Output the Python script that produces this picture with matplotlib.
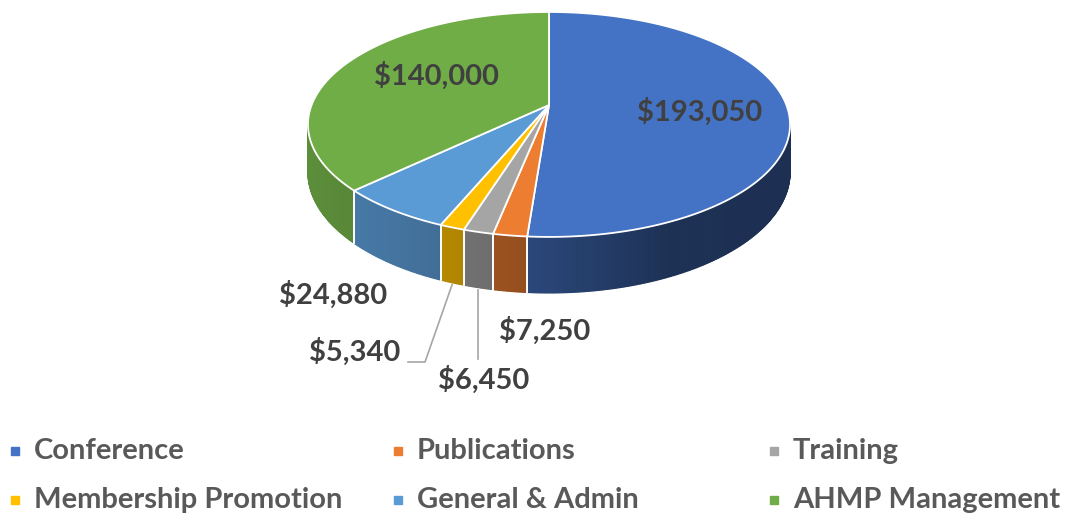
import numpy as np
import matplotlib.pyplot as plt
from matplotlib.patches import Polygon
import matplotlib.colors as mcolors

plt.rcParams['font.family'] = ['Lato', 'DejaVu Sans']

# budget data
categories = ['Conference', 'Publications', 'Training',
              'Membership Promotion', 'General & Admin', 'AHMP Management']
amounts = [193050, 7250, 6450, 5340, 24880, 140000]
value_labels = ['$193,050', '$7,250', '$6,450', '$5,340', '$24,880', '$140,000']
colors = ['#4472C4', '#ED7D31', '#A5A5A5', '#FFC000', '#5B9BD5', '#70AD47']

# geometry of the tilted disc, in pixels
cx, cy = 549, 105
A, B, tilt = 237.4, 109.1, 0.173
depth = 46.3


def project(phi):
    u, v = np.cos(phi), np.sin(phi)
    w = 1 + tilt * v
    return cx + A * u / w, cy - B * v / w, depth / w


def shade(x):
    s = (x - (cx - 241)) / 482.0
    return np.interp(s, [0, 0.3, 0.5, 0.75, 1], [0.82, 0.70, 0.60, 0.43, 0.42])


fig = plt.figure(figsize=(10.67, 5.16), dpi=100)
ax = fig.add_axes([0, 0, 1, 1])
ax.set_xlim(0, 1067)
ax.set_ylim(516, 0)
ax.axis('off')

frac = np.array(amounts) / np.sum(amounts)
ends = np.pi / 2 - 2 * np.pi * np.cumsum(frac)
starts = np.concatenate([[np.pi / 2], ends[:-1]])

vis_lo = -np.pi + np.arcsin(tilt)
vis_hi = -np.arcsin(tilt)

# side walls (front part only), gradient shaded
for i in range(len(amounts)):
    lo = max(ends[i], vis_lo)
    hi = min(starts[i], vis_hi)
    if lo >= hi:
        continue
    base = np.array(mcolors.to_rgb(colors[i]))
    n = max(2, int(np.degrees(hi - lo) * 2))
    angs = np.linspace(hi, lo, n + 1)
    for a0, a1 in zip(angs[:-1], angs[1:]):
        x0, y0, h0 = project(a0)
        x1, y1, h1 = project(a1)
        c = np.clip(base * shade((x0 + x1) / 2), 0, 1)
        ax.add_patch(Polygon([(x0, y0), (x1, y1), (x1, y1 + h1), (x0, y0 + h0)],
                             closed=True, facecolor=c, edgecolor=c, lw=0.9, zorder=2))
    # white seams between slices on the wall
    for a in (starts[i], ends[i]):
        if vis_lo < a < vis_hi:
            x, y, h = project(a)
            ax.plot([x, x], [y, y + h], color='white', lw=1.2, zorder=3)

# top faces
for i in range(len(amounts)):
    angs = np.linspace(starts[i], ends[i], max(3, int(np.degrees(starts[i] - ends[i]) * 2)))
    xs, ys, _ = project(angs)
    pts = [(cx, cy)] + list(zip(xs, ys))
    ax.add_patch(Polygon(pts, closed=True, facecolor=colors[i], edgecolor='white',
                         lw=1.3, joinstyle='round', zorder=4))

# data labels
label_pos = [(700, 112), (545, 331), (484, 380), (355, 352), (333, 295), (436, 76)]
for i, (x, y) in enumerate(label_pos):
    ax.text(x, y, value_labels[i], ha='center', va='center', fontsize=21,
            fontweight='bold', color='#404040', zorder=6)

# leader lines for the two thin slices
mid_tr = (starts[2] + ends[2]) / 2
xt, yt, ht = project(mid_tr)
ax.plot([xt, xt], [yt + ht + 2, 359], color='#a6a6a6', lw=1.2, zorder=5)
mid_mp = (starts[3] + ends[3]) / 2
xm, ym, hm = project(mid_mp)
ax.plot([xm, 425, 408], [ym + hm + 2, 362, 362], color='#a6a6a6', lw=1.2, zorder=5)

# legend, two rows of three
col_x = [10, 393, 769]
row_y = [451, 500]
for i, name in enumerate(categories):
    x = col_x[i % 3]
    y = row_y[i // 3]
    ax.plot([x + 5], [y], marker='s', markersize=6, color=colors[i], zorder=5)
    ax.text(x + 24, y, name, ha='left', va='center', fontsize=21,
            fontweight='bold', color='#595959')

fig.savefig('out.png', dpi=100)
